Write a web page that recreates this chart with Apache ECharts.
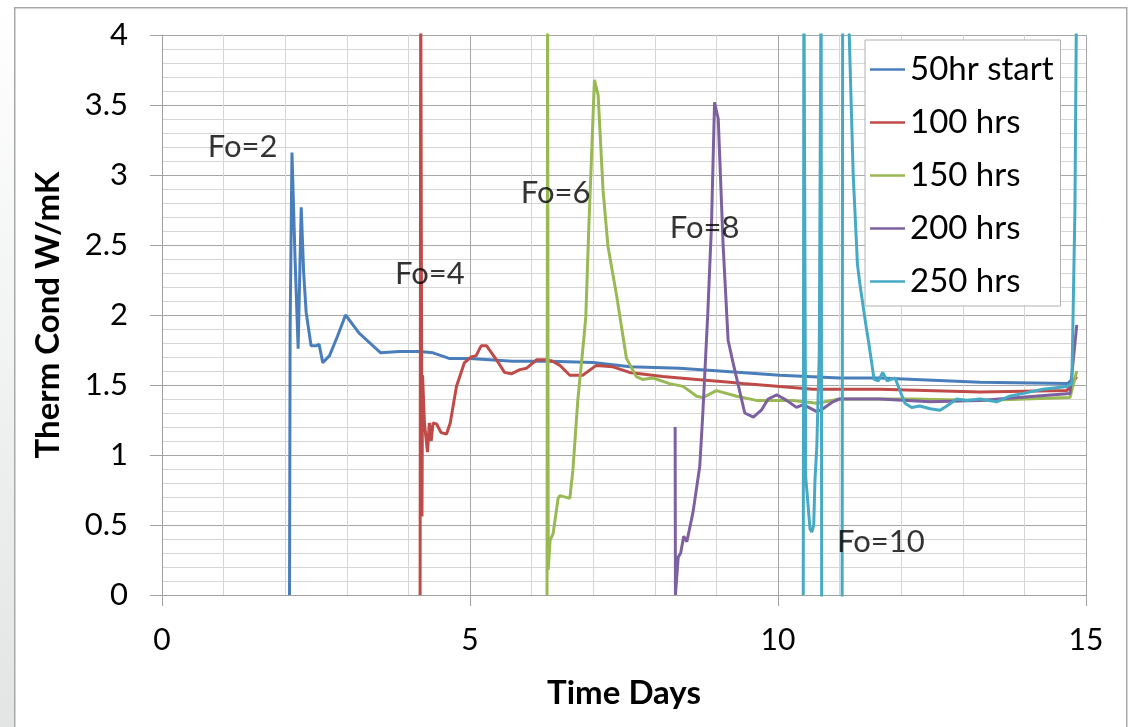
<!DOCTYPE html>
<html>
<head>
<meta charset="utf-8">
<script src="https://cdn.jsdelivr.net/npm/echarts@6/dist/echarts.min.js"></script>
<style>
html,body{margin:0;padding:0;background:#fff;}
#chart{width:1130px;height:727px;}
</style>
</head>
<body>
<div id="chart"></div>
<script>
// ---- data (Time Days, Therm Cond W/mK) ----
const seriesNames = ['50hr start', '100 hrs', '150 hrs', '200 hrs', '250 hrs'];
const seriesColors = ['#4A7EBB', '#BE4B48', '#98B954', '#7D60A0', '#46AAC5'];

const hrs50 = [[2.07,0],[2.08,1.9],[2.1,1.9],[2.11,3.16],[2.13,3.17],[2.16,2.4],[2.21,1.76],[2.26,2.77],[2.3,2.3],[2.34,2.02],[2.42,1.78],[2.5,1.78],[2.55,1.79],[2.61,1.66],[2.72,1.71],[2.85,1.85],[2.98,2.0],[3.2,1.87],[3.55,1.73],[3.85,1.74],[4.18,1.74],[4.4,1.73],[4.66,1.69],[5.0,1.69],[5.69,1.67],[6.3,1.67],[7.0,1.66],[7.6,1.63],[8.4,1.62],[9.05,1.6],[10.03,1.57],[11.0,1.55],[11.65,1.55],[13.28,1.52],[14.7,1.51],[14.8,1.55]];

const hrs100 = [[4.19,0],[4.2,4.5],[4.22,0.56],[4.23,1.57],[4.26,1.23],[4.31,1.02],[4.34,1.23],[4.37,1.1],[4.4,1.23],[4.46,1.22],[4.53,1.16],[4.62,1.15],[4.68,1.23],[4.78,1.49],[4.91,1.66],[5.02,1.7],[5.1,1.71],[5.18,1.78],[5.27,1.78],[5.43,1.68],[5.56,1.59],[5.67,1.58],[5.81,1.61],[5.92,1.62],[6.08,1.68],[6.24,1.68],[6.34,1.67],[6.46,1.64],[6.62,1.57],[6.83,1.57],[7.05,1.64],[7.32,1.63],[7.59,1.59],[8.13,1.56],[8.68,1.54],[9.22,1.52],[9.43,1.51],[10.03,1.49],[10.57,1.47],[11.65,1.47],[13.28,1.45],[14.69,1.46],[14.85,1.56]];

const hrs150 = [[6.25,0],[6.26,4.5],[6.27,0.18],[6.3,0.39],[6.35,0.44],[6.43,0.69],[6.46,0.71],[6.62,0.69],[6.67,0.89],[6.75,1.39],[6.85,1.84],[6.88,1.99],[6.93,2.64],[7.02,3.68],[7.08,3.57],[7.16,2.89],[7.24,2.49],[7.38,2.14],[7.54,1.69],[7.7,1.56],[7.8,1.54],[7.97,1.55],[8.24,1.51],[8.46,1.49],[8.68,1.42],[8.78,1.41],[9.0,1.46],[9.33,1.42],[9.65,1.39],[10.24,1.39],[10.63,1.37],[11.0,1.4],[12.19,1.4],[13.28,1.39],[14.74,1.41],[14.85,1.6]];

const hrs200 = [[8.33,1.2],[8.335,0],[8.38,0.27],[8.42,0.3],[8.47,0.42],[8.52,0.38],[8.62,0.59],[8.73,0.92],[8.78,1.3],[8.86,2.01],[8.92,2.64],[8.97,3.52],[9.03,3.4],[9.11,2.49],[9.19,1.82],[9.27,1.66],[9.46,1.3],[9.6,1.27],[9.73,1.32],[9.84,1.4],[9.98,1.43],[10.14,1.39],[10.3,1.34],[10.41,1.36],[10.63,1.31],[10.73,1.33],[10.89,1.38],[11.0,1.4],[11.65,1.4],[12.47,1.38],[13.28,1.39],[14.74,1.44],[14.85,1.93]];

const hrs250 = [[10.41,0],[10.42,4.5],[10.45,0.84],[10.47,0.74],[10.52,0.47],[10.55,0.45],[10.58,0.5],[10.6,0.82],[10.63,1.06],[10.67,1.73],[10.7,4.5],[10.71,-0.5],[11.04,-0.5],[11.05,4.5],[11.15,4.1],[11.22,3.01],[11.29,2.36],[11.33,2.22],[11.43,1.92],[11.48,1.78],[11.56,1.54],[11.63,1.53],[11.7,1.59],[11.77,1.53],[11.9,1.55],[12.06,1.37],[12.17,1.34],[12.3,1.35],[12.47,1.33],[12.63,1.32],[12.74,1.35],[12.9,1.4],[13.06,1.39],[13.28,1.4],[13.55,1.38],[13.76,1.42],[13.98,1.44],[14.3,1.47],[14.69,1.49],[14.77,1.51],[14.82,2.74],[14.85,4.5]];

const annotations = [[1.31,3.2,'Fo=2'],[4.35,2.29,'Fo=4'],[6.39,2.87,'Fo=6'],[8.81,2.62,'Fo=8'],[11.67,0.38,'Fo=10']];

const xTitle = 'Time Days';
const yTitle = 'Therm Cond W/mK';

// ---- chart ----
const FONT = 'Lato';
const chart = echarts.init(document.getElementById('chart'), null, {renderer: 'canvas'});
const lineData = [hrs50, hrs100, hrs150, hrs200, hrs250];

const series = lineData.map((d, i) => ({
  name: seriesNames[i],
  type: 'line',
  data: d,
  symbol: 'none',
  clip: true,
  lineStyle: {color: seriesColors[i], width: 3},
  itemStyle: {color: seriesColors[i]},
  animation: false,
  z: 3 + i
}));

series.push({
  name: 'annotations',
  type: 'scatter',
  data: annotations,
  symbolSize: 1,
  itemStyle: {color: 'rgba(0,0,0,0)'},
  label: {
    show: true, position: 'inside',
    formatter: p => p.value[2],
    color: '#000', textBorderWidth: 0, textBorderColor: 'transparent',
    fontFamily: FONT, fontSize: 31
  },
  silent: true, animation: false, z: 10
});

chart.setOption({
  animation: false,
  backgroundColor: '#fff',
  textStyle: {fontFamily: FONT},
  graphic: [
    {type: 'rect', left: 0, top: 0, shape: {width: 14, height: 727}, z: -10,
     style: {fill: new echarts.graphic.LinearGradient(0, 0, 0, 1, [{offset: 0, color: '#ffffff'}, {offset: 1, color: '#e3e5e5'}])}},
    {type: 'rect', left: 14, top: 7, shape: {width: 1112, height: 740}, z: -9,
     style: {fill: '#fff', stroke: '#a9a9a9', lineWidth: 1.5}}
  ],
  grid: {left: 162, right: 44, top: 35, height: 560, containLabel: false},
  legend: {
    data: seriesNames,
    orient: 'vertical',
    left: 865, top: 40,
    backgroundColor: '#fff',
    borderColor: '#b0b0b0', borderWidth: 1,
    padding: [13, 7, 8, 5],
    icon: 'rect',
    itemWidth: 35, itemHeight: 2.5, itemGap: 20,
    textStyle: {fontFamily: FONT, fontSize: 33, lineHeight: 33, color: '#000'},
    z: 20
  },
  xAxis: {
    type: 'value', min: 0, max: 15, interval: 5,
    name: xTitle, nameLocation: 'middle', nameGap: 82,
    nameTextStyle: {fontFamily: FONT, fontSize: 33, fontWeight: 'bold', color: '#000'},
    axisLine: {show: true, lineStyle: {color: '#a0a0a0', width: 1}},
    axisTick: {show: true, length: 11, lineStyle: {color: '#a0a0a0'}},
    minorTick: {show: false, splitNumber: 5},
    axisLabel: {fontFamily: FONT, fontSize: 30, color: '#000', margin: 30},
    splitLine: {show: true, lineStyle: {color: '#a6a6a6', width: 1}},
    minorSplitLine: {show: true, lineStyle: {color: '#d6d6d6', width: 1}}
  },
  yAxis: {
    type: 'value', min: 0, max: 4, interval: 0.5,
    name: yTitle, nameLocation: 'middle', nameGap: 97,
    nameTextStyle: {fontFamily: FONT, fontSize: 33, fontWeight: 'bold', color: '#000'},
    axisLine: {show: true, lineStyle: {color: '#a0a0a0', width: 1}},
    axisTick: {show: true, length: 12, lineStyle: {color: '#a0a0a0'}},
    minorTick: {show: false, splitNumber: 5},
    axisLabel: {fontFamily: FONT, fontSize: 31, color: '#000', margin: 34},
    splitLine: {show: true, lineStyle: {color: '#a6a6a6', width: 1}},
    minorSplitLine: {show: true, lineStyle: {color: '#d6d6d6', width: 1}}
  },
  series: series
});
</script>
</body>
</html>
